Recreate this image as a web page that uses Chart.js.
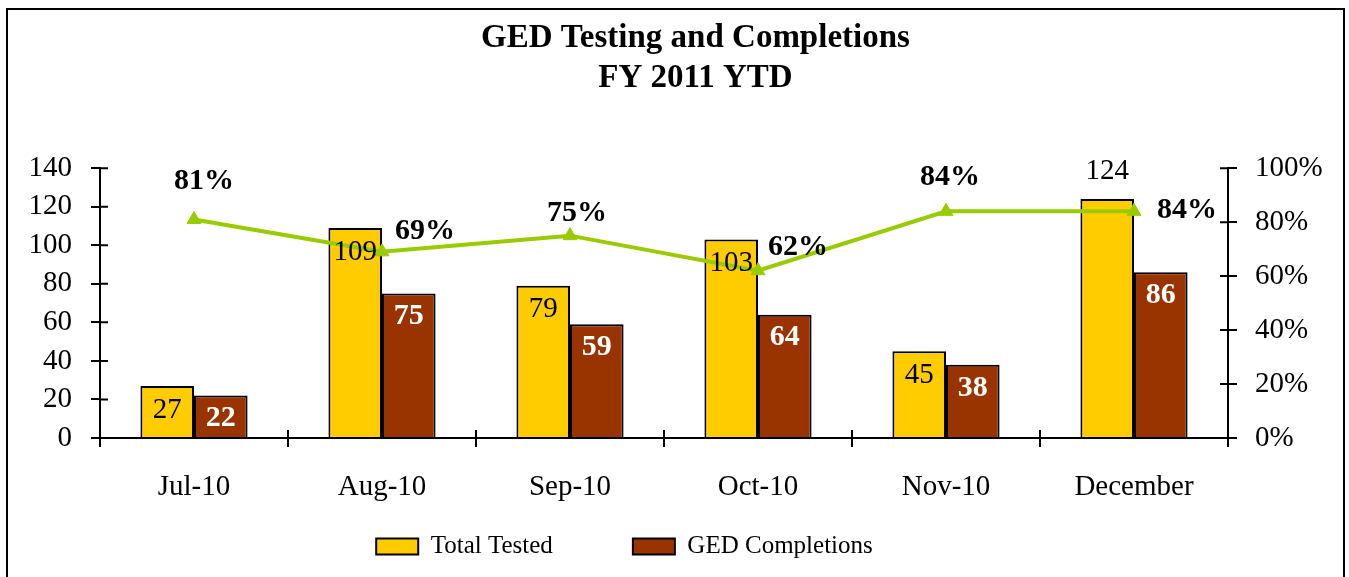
<!DOCTYPE html>
<html>
<head>
<meta charset="utf-8">
<script src="https://cdn.jsdelivr.net/npm/chart.js@4"></script>
<style>
  html, body { margin: 0; padding: 0; background: #fff; }
  canvas { display: block; }
</style>
</head>
<body>
<canvas id="gedChart" width="1349" height="577"></canvas>
<script>
const months = ['Jul-10', 'Aug-10', 'Sep-10', 'Oct-10', 'Nov-10', 'December'];
const totalTested = [27, 109, 79, 103, 45, 124];
const gedCompletions = [22, 75, 59, 64, 38, 86];
const completionRate = [0.81, 0.69, 0.75, 0.62, 0.84, 0.84];
const countTicks = [0, 20, 40, 60, 80, 100, 120, 140];
const rateTicks = [0, 0.2, 0.4, 0.6, 0.8, 1];

const serif = "'Liberation Serif', 'Times New Roman', serif";

// percent labels were moved by hand in the original, keep the same nudges
const pctLabelShift = [[10, -38], [43, -21], [7, -22], [40, -23], [4, -34], [53, -1]];

const frame = {
    id: 'frame',
    beforeDraw(chart) {
        const ctx = chart.ctx;
        ctx.save();
        ctx.fillStyle = '#fff';
        ctx.fillRect(0, 0, chart.width, chart.height);
        ctx.strokeStyle = '#000';
        ctx.lineWidth = 2;
        ctx.strokeRect(7, 9, 1337, 620);
        ctx.restore();
    }
};

// title sits a bit right of centre, legend a bit left, as in the original
const blockNudge = {
    id: 'blockNudge',
    afterLayout(chart) {
        chart.titleBlock.left += 21;
        chart.titleBlock.right += 21;
        const lg = chart.legend;
        lg.left -= 50;
        lg.right -= 50;
        lg.top = 454;
        lg.bottom = chart.height;
    }
};

const innerTicks = {
    id: 'innerTicks',
    afterDraw(chart) {
        const { ctx, chartArea, scales } = chart;
        ctx.save();
        ctx.strokeStyle = '#000';
        ctx.lineWidth = 2;
        ctx.beginPath();
        scales.y.ticks.forEach((t, i) => {
            const y = scales.y.getPixelForTick(i);
            ctx.moveTo(chartArea.left, y);
            ctx.lineTo(chartArea.left + 8, y);
        });
        scales.y1.ticks.forEach((t, i) => {
            const y = scales.y1.getPixelForTick(i);
            ctx.moveTo(chartArea.right - 8, y);
            ctx.lineTo(chartArea.right, y);
        });
        for (let i = 1; i < months.length; i++) {
            const x = (scales.x.getPixelForValue(i - 1) + scales.x.getPixelForValue(i)) / 2;
            ctx.moveTo(x, chartArea.bottom);
            ctx.lineTo(x, chartArea.bottom - 8);
        }
        ctx.stroke();
        ctx.restore();
    }
};

const valueLabels = {
    id: 'valueLabels',
    afterDatasetsDraw(chart) {
        const ctx = chart.ctx;
        ctx.save();
        ctx.textAlign = 'center';
        ctx.textBaseline = 'middle';

        const tested = chart.getDatasetMeta(0).data;
        const tallest = Math.max(...totalTested);
        ctx.font = `29px ${serif}`;
        ctx.fillStyle = '#000';
        tested.forEach((bar, i) => {
            const y = totalTested[i] === tallest ? bar.y - 28 : bar.y + 24;
            ctx.fillText(String(totalTested[i]), bar.x, y);
        });

        const done = chart.getDatasetMeta(1).data;
        ctx.font = `bold 30px ${serif}`;
        ctx.fillStyle = '#fff';
        done.forEach((bar, i) => {
            ctx.fillText(String(gedCompletions[i]), bar.x, bar.y + 23);
        });

        const pts = chart.getDatasetMeta(2).data;
        ctx.font = `bold 30px ${serif}`;
        ctx.fillStyle = '#000';
        pts.forEach((pt, i) => {
            const [dx, dy] = pctLabelShift[i];
            ctx.fillText(Math.round(completionRate[i] * 100) + '%', pt.x + dx, pt.y + dy);
        });
        ctx.restore();
    }
};

const axisLook = {
    grid: { drawOnChartArea: false, color: '#000', lineWidth: 2, tickLength: 9 },
    border: { color: '#000', width: 2 }
};

new Chart(document.getElementById('gedChart'), {
    type: 'bar',
    data: {
        labels: months,
        datasets: [
            {
                label: 'Total Tested',
                data: totalTested,
                backgroundColor: '#FFCC00',
                borderColor: '#000',
                borderWidth: 2,
                yAxisID: 'y',
                order: 1
            },
            {
                label: 'GED Completions',
                data: gedCompletions,
                backgroundColor: '#993300',
                borderColor: '#000',
                borderWidth: 2,
                yAxisID: 'y',
                order: 1
            },
            {
                type: 'line',
                label: 'Completion Rate',
                data: completionRate,
                borderColor: '#99CC00',
                backgroundColor: '#99CC00',
                borderWidth: 4,
                pointStyle: 'triangle',
                pointRadius: 8,
                pointBorderWidth: 1,
                yAxisID: 'y1',
                order: 0
            }
        ]
    },
    options: {
        responsive: false,
        animation: false,
        layout: { padding: 0 },
        datasets: {
            bar: { categoryPercentage: 0.57, barPercentage: 1 }
        },
        scales: {
            x: {
                ...axisLook,
                ticks: { color: '#000', font: { family: serif, size: 29 }, padding: 23 },
                afterFit(scale) { scale.height = 66; }
            },
            y: {
                ...axisLook,
                position: 'left',
                min: 0,
                max: countTicks[countTicks.length - 1],
                afterBuildTicks(scale) { scale.ticks = countTicks.map(v => ({ value: v })); },
                ticks: { color: '#000', font: { family: serif, size: 29 }, padding: 19 },
                afterFit(scale) { scale.width = 100; }
            },
            y1: {
                ...axisLook,
                position: 'right',
                min: 0,
                max: 1,
                afterBuildTicks(scale) { scale.ticks = rateTicks.map(v => ({ value: v })); },
                ticks: {
                    color: '#000',
                    font: { family: serif, size: 29 },
                    padding: 18,
                    callback: v => Math.round(v * 100) + '%'
                },
                afterFit(scale) { scale.width = 121; }
            }
        },
        plugins: {
            title: {
                display: true,
                text: ['GED Testing and Completions', 'FY 2011 YTD'],
                color: '#000',
                font: { family: serif, size: 33, weight: 'bold', lineHeight: 1.2 },
                padding: { top: 19, bottom: 70 }
            },
            legend: {
                position: 'bottom',
                maxHeight: 73,
                labels: {
                    color: '#000',
                    font: { family: serif, size: 25 },
                    boxWidth: 42,
                    boxHeight: 16,
                    padding: 80,
                    filter: item => item.datasetIndex < 2
                }
            },
            tooltip: { enabled: false }
        }
    },
    plugins: [frame, blockNudge, innerTicks, valueLabels]
});
</script>
</body>
</html>
